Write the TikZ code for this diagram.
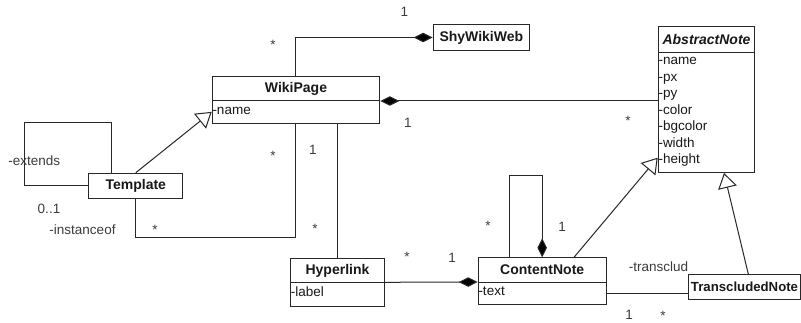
\documentclass[tikz,border=0pt]{standalone}
\usepackage{fontspec}
\setmainfont{Liberation Sans}
\usetikzlibrary{arrows.meta,calc}
\definecolor{lc}{RGB}{40,40,40}
\definecolor{tc}{RGB}{25,25,25}
\definecolor{labc}{RGB}{60,60,60}
\tikzset{
  cls/.style={draw=lc, line width=1pt, fill=white, inner sep=0pt, anchor=north west,
    font=\fontsize{14}{16}\selectfont\bfseries, text=tc},
  attbox/.style={draw=lc, line width=1pt, fill=white, inner sep=0pt, anchor=north west},
  att/.style={anchor=base west, inner sep=0pt, font=\fontsize{13.5}{16}\selectfont, text=tc},
  lab/.style={inner sep=0pt, font=\fontsize{13.5}{16}\selectfont, text=labc},
  star/.style={lab, anchor=base},
  conn/.style={draw=lc, line width=1pt},
  comp/.style={conn, -{Diamond[length=19pt,width=9.5pt,fill=black]}},
  gen/.style={conn, -{Triangle[open,length=15pt,width=19pt,fill=white]}},
}
\begin{document}
\begin{tikzpicture}[x=1pt,y=-1pt]
\useasboundingbox (0,0) rectangle (801,323);
\fill[white] (0,0) rectangle (801,323);

\coordinate (tl) at (24,122.7);
\coordinate (io) at (295,237.3);
\coordinate (cl) at (509.3,175.7);

% classes
\node[cls, minimum width=167.6pt, minimum height=24pt] (wph) at (211.7,76) {WikiPage};
\node[attbox, minimum width=167.6pt, minimum height=22.7pt] (wpa) at (211.7,100) {};
\node[att] (wpa1) at (212.3,115) {-name};

\node[cls, minimum width=96.3pt, minimum height=26pt] (sww) at (432.7,24) {ShyWikiWeb};

\node[cls, minimum width=96.6pt, minimum height=25.7pt, font=\fontsize{14}{16}\selectfont\bfseries\itshape] (anh) at (657.7,26) {AbstractNote};
\node[attbox, minimum width=96.6pt, minimum height=120.3pt] (ana) at (657.7,51.7) {};
\foreach \t [count=\i] in {name,px,py,color,bgcolor,width,height}
  \node[att] (an\i) at (658.3,{65+16.5*(\i-1)}) {-\t};

\node[cls, minimum width=94pt, minimum height=25.6pt] (tp) at (88.3,172.7) {Template};

\node[cls, minimum width=94pt, minimum height=24pt] (hlh) at (290,258.3) {Hyperlink};
\node[attbox, minimum width=94pt, minimum height=23.4pt] (hla) at (290,282.3) {};
\node[att] (hla1) at (290.6,297) {-label};

\node[cls, minimum width=128pt, minimum height=24.7pt] (cnh) at (477.7,257.3) {ContentNote};
\node[attbox, minimum width=128pt, minimum height=22pt] (cna) at (477.7,282) {};
\node[att] (cna1) at (478.3,296) {-text};

\node[cls, minimum width=112.6pt, minimum height=25pt, font=\fontsize{13.2}{16}\selectfont\bfseries] (tnh) at (687.7,274) {TranscludedNote};

% connectors
\draw[comp] ([xshift=83.3pt]wph.north west) |- (sww.west);
\draw[comp] (wph.south east -| ana.west) -- (wph.south east);
\draw[conn] (tp.west) -| (tl) -| ([xshift=23.4pt]tp.north west);
\draw[gen] (tp.north) -- (wpa.west);
\draw[conn] (tp.south) |- (io) -- (io |- wpa.south);
\draw[conn] (wpa.south -| hlh.north) -- (hlh.north);
\draw[comp] (hla.north east) -- (cna.north west);
\draw[comp] (cl |- cnh.north) -- (cl) -| (cnh.north);
\draw[gen] ([xshift=96.3pt]cnh.north west) -- ([yshift=15.3pt]ana.south west);
\draw[gen] ([xshift=60.6pt]tnh.north west) -- ([xshift=66.3pt]ana.south west);
\draw[conn] (cna.east) -- (cna.east -| tnh.west);

% labels
\node[lab] (l1) at (404.3,12.3) {1};
\node[star] (s1) at (273,49.8) {*};
\node[lab] (l2) at (408,123) {1};
\node[star] (s2) at (628,125.8) {*};
\node[star] (s3) at (273,160.8) {*};
\node[lab] (l3) at (313,150) {1};
\node[lab] (ext) at (34.2,161) {-extends};
\node[lab] (l01) at (49,209.3) {0..1};
\node[lab] (inst) at (82.5,230) {-instanceof};
\node[star] (s4) at (155,234.8) {*};
\node[star] (s5) at (315,233.8) {*};
\node[star] (s6) at (407,261.8) {*};
\node[lab] (l4) at (452,258) {1};
\node[star] (s7) at (488,230.8) {*};
\node[lab] (l5) at (562,227) {1};
\node[lab] (trc) at (658.5,266.7) {-transclud};
\node[lab] (l6) at (629,315) {1};
\node[star] (s8) at (663,320.8) {*};
\end{tikzpicture}
\end{document}
